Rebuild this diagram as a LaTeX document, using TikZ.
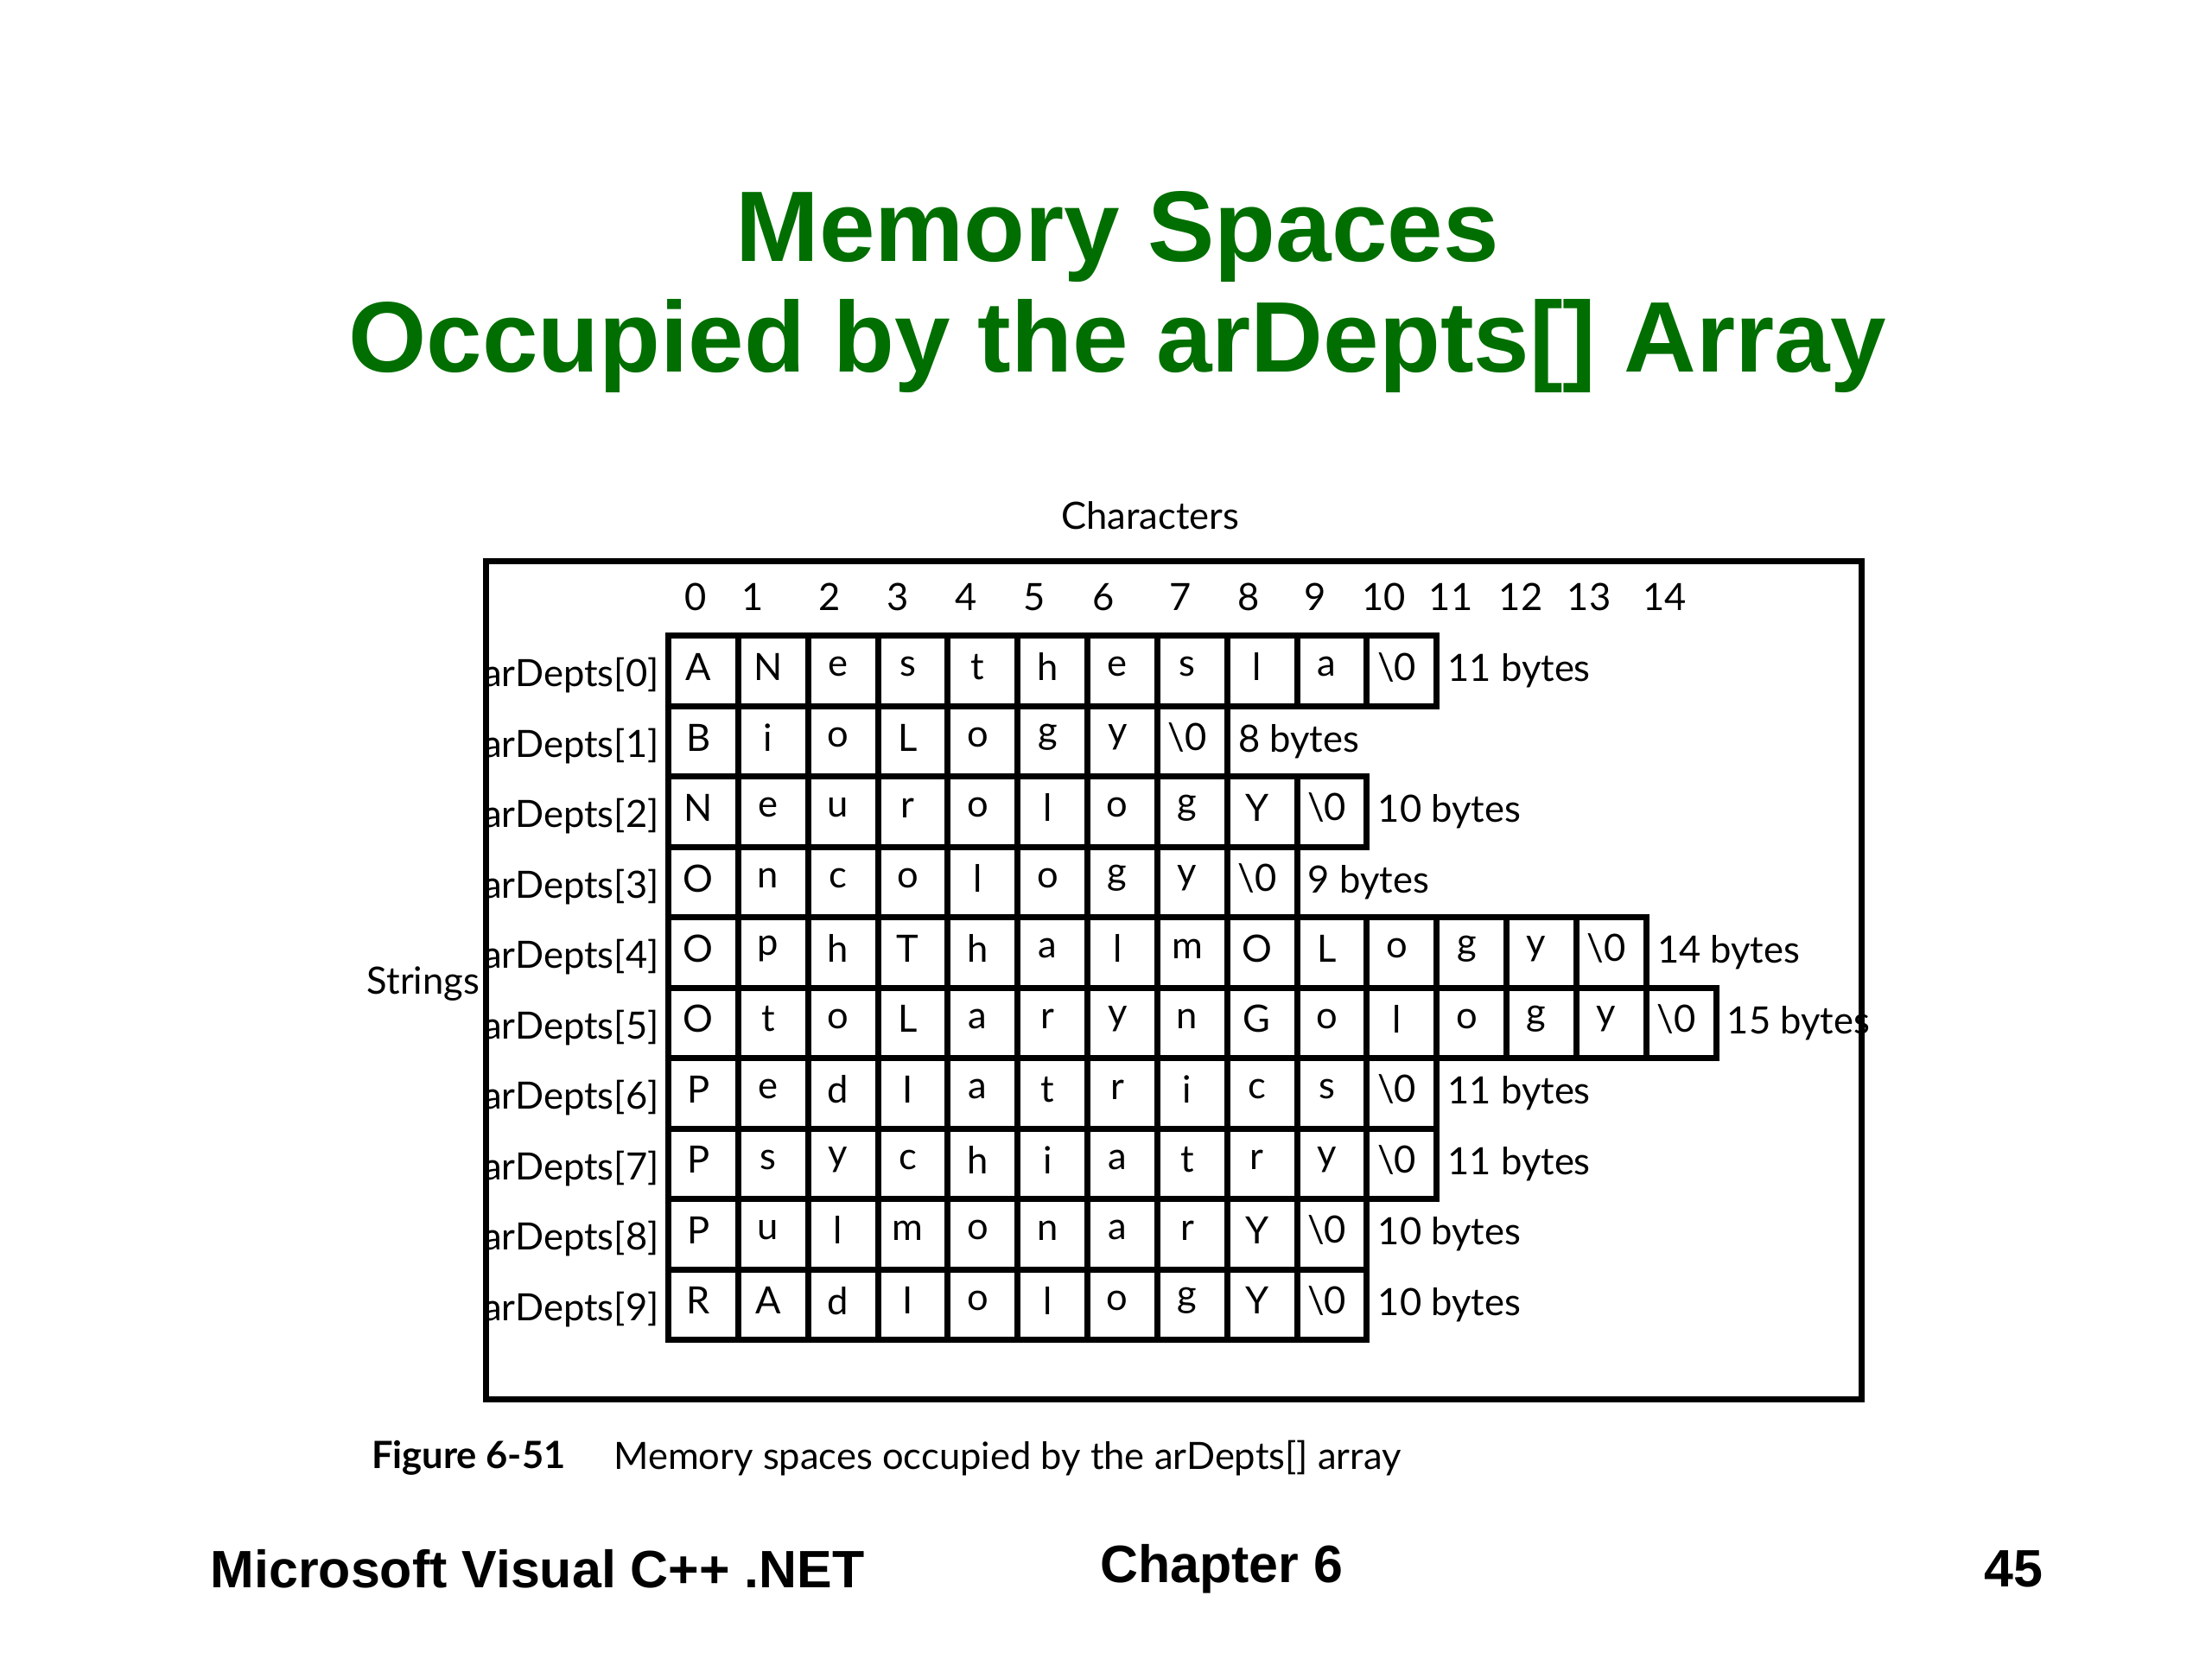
\documentclass[tikz,border=0pt]{standalone}
\usepackage{fontspec}
\setmainfont{Lato}
\newfontfamily\arialf{Liberation Sans}
\definecolor{titlegreen}{RGB}{0,110,0}
\newcommand\cellrow[3]{%
  \foreach \c [count=\i from 0] in {#2}{%
    \node[cell] (c#1-\i) at ({469+49*\i+24.5},{446+49.4*#1+24.7}) {};
    \node[ch] (t#1-\i) at ({469+49*\i+21},{446+49.4*#1+22}) {\c};
  }%
  \pgfmathtruncatemacro\last{#3-1}%
  \node[lab,anchor=west] (b#1) at ($(c#1-\last.east)+(5,0)$) {#3 bytes};
  \node[lab,anchor=east] (r#1) at (463,{446+49.4*#1+28}) {arDepts[#1]};
}
\usetikzlibrary{calc}
\begin{document}
\begin{tikzpicture}[x=0.01cm,y=-0.01cm,
  cell/.style={draw,line width=1.2pt,minimum width=0.49cm,minimum height=0.494cm,inner sep=0},
  ch/.style={font=\fontsize{7.5pt}{9pt}\selectfont,inner sep=0},
  lab/.style={font=\fontsize{7.5pt}{9pt}\selectfont,inner sep=0},
  foot/.style={font=\arialf\bfseries\fontsize{10.5pt}{12pt}\selectfont,inner sep=0}]
\useasboundingbox (0,0) rectangle (1552,1164);
\node[font=\arialf\bfseries\fontsize{20pt}{24pt}\selectfont,text=titlegreen,align=center,inner sep=0] (title) at (784,205) {Memory Spaces\\[-2pt]Occupied by the arDepts[] Array};
\node[lab] (chars) at (807,362) {Characters};
\draw[line width=1.2pt] (341,394) rectangle (1306,982);
\node[lab] (strings) at (297,690) {Strings};
\foreach \n/\x in {0/488,1/528,2/582,3/630,4/678,5/726,6/774,7/828,8/876,9/923,10/971,11/1018,12/1067,13/1115,14/1168}
  \node[lab] (h\n) at (\x,419) {\n};
\cellrow{0}{A,N,e,s,t,h,e,s,l,a,\textbackslash0}{11}
\cellrow{1}{B,i,o,L,o,g,y,\textbackslash0}{8}
\cellrow{2}{N,e,u,r,o,l,o,g,Y,\textbackslash0}{10}
\cellrow{3}{O,n,c,o,l,o,g,y,\textbackslash0}{9}
\cellrow{4}{O,p,h,T,h,a,l,m,O,L,o,g,y,\textbackslash0}{14}
\cellrow{5}{O,t,o,L,a,r,y,n,G,o,l,o,g,y,\textbackslash0}{15}
\cellrow{6}{P,e,d,I,a,t,r,i,c,s,\textbackslash0}{11}
\cellrow{7}{P,s,y,c,h,i,a,t,r,y,\textbackslash0}{11}
\cellrow{8}{P,u,l,m,o,n,a,r,Y,\textbackslash0}{10}
\cellrow{9}{R,A,d,I,o,l,o,g,Y,\textbackslash0}{10}
\node[lab,anchor=west,font=\bfseries\fontsize{7.5pt}{9pt}\selectfont] (fig) at (260,1023) {Figure 6-51};
\node[lab,anchor=west] (cap) at (430,1023) {Memory spaces occupied by the arDepts[] array};
\node[foot,anchor=west] (f1) at (147,1101) {Microsoft Visual C++ .NET};
\node[foot] (f2) at (857,1101) {Chapter 6};
\node[foot,anchor=east] (f3) at (1434,1101) {45};
\end{tikzpicture}
\end{document}
